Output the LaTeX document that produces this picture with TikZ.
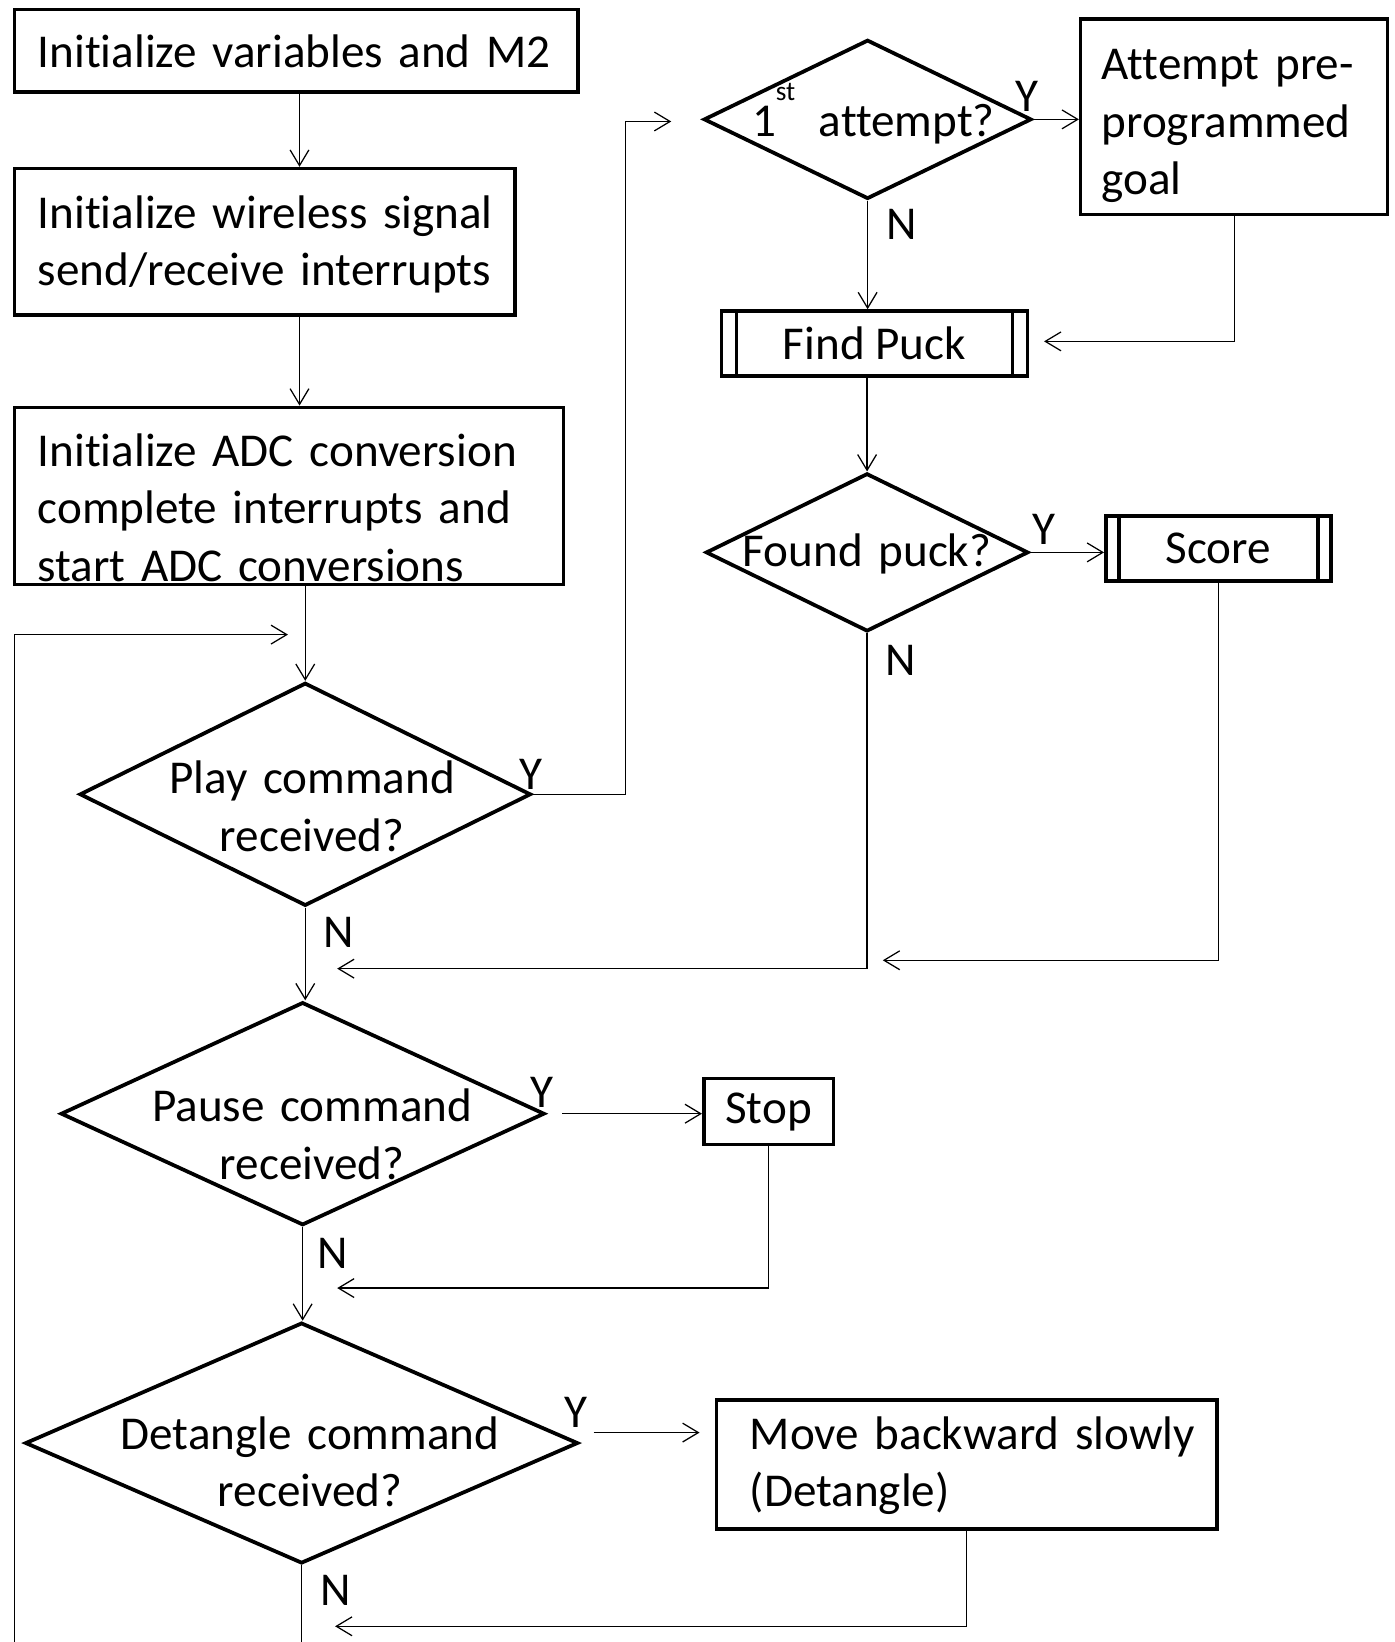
\documentclass[tikz,border=0pt]{standalone}
\usepackage{fontspec}
\setmainfont{Carlito}[Ligatures=NoCommon]
\usetikzlibrary{shapes.geometric,arrows.meta,calc}
\begin{document}
\begin{tikzpicture}[x=0.5pt,y=-0.5pt,
  every node/.style={font=\fontsize{22.5}{27.5}\selectfont},
  box/.style={draw,line width=1.7pt,rectangle,inner ysep=0pt,align=left},
  pbox/.style={draw,line width=1.7pt,rectangle,inner sep=0pt},
  dia/.style={draw,line width=1.8pt,diamond,inner sep=0pt},
  dtext/.style={text width=240pt,align=center,anchor=base,inner sep=0pt},
  yn/.style={anchor=base,inner sep=0pt},
  conn/.style={line width=0.6pt,-{Straight Barb[length=7.5pt,width=9pt]}},
  bar/.style={line width=1.7pt}]
\useasboundingbox (0,0) rectangle (1332,1568);
\fill[white] (0,0) rectangle (1332,1568);
\clip (0,0) rectangle (1332,1568);

% process boxes
\node[box, inner xsep=11pt, text width=247pt, minimum height=39.5pt, text height=20.5pt, text depth=5pt] (b1) at (283,48.5) {\mbox{Initialize variables and M2}};
\node[box, inner xsep=11pt, text width=217pt, minimum height=70pt, text height=22pt, text depth=35pt] (b2) at (253,231) {\mbox{Initialize wireless signal}\\\mbox{send/receive interrupts}};
\node[box, inner xsep=11pt, text width=240pt, minimum height=84.5pt, text height=20pt, text depth=48.5pt] (b3) at (276,473.5) {\mbox{Initialize ADC conversion}\\\mbox{complete interrupts and}\\\mbox{start ADC conversions}};
\node[box, inner xsep=10pt, text width=126.5pt, minimum height=93.5pt, text height=20pt, text depth=55.5pt] (attb) at (1178.5,111.5) {\mbox{Attempt pre-}\\\mbox{programmed}\\\mbox{goal}};
\node[box, inner xsep=16pt, text width=207pt, minimum height=61.5pt, text height=20pt, text depth=34.5pt] (mv) at (923,1398.5) {\mbox{Move backward slowly}\\\mbox{(Detangle)}};

% predefined process boxes
\node[pbox, minimum width=146pt, minimum height=31pt] (fp) at (835,328) {Find Puck};
\draw[bar] ([xshift=8pt]fp.north west) -- ([xshift=8pt]fp.south west);
\draw[bar] ([xshift=-8pt]fp.north east) -- ([xshift=-8pt]fp.south east);
\node[pbox, minimum width=107.5pt, minimum height=31pt] (sc) at (1163.5,524) {Score};
\draw[bar] ([xshift=7pt]sc.north west) -- ([xshift=7pt]sc.south west);
\draw[bar] ([xshift=-7pt]sc.north east) -- ([xshift=-7pt]sc.south east);
\node[pbox, minimum width=62pt, minimum height=31.5pt] (stop) at (734,1061.5) {Stop};

% decisions
\node[dia, minimum width=156.5pt, minimum height=76pt] (att) at (828.5,114) {};
\node[dia, minimum width=154pt, minimum height=75.5pt] (fnd) at (828,527.5) {};
\node[dia, minimum width=215.5pt, minimum height=106.5pt] (play) at (291.5,758.5) {};
\node[dia, minimum width=231pt, minimum height=106.5pt] (pause) at (289,1063.5) {};
\node[dia, minimum width=264pt, minimum height=115pt] (det) at (288,1378) {};

\node[dtext] (attt) at (834,130) {1\raisebox{17pt}{\fontsize{13}{13}\selectfont st}\hspace{0.5em}attempt?};
\node[dtext] (fndt) at (828,541) {Found puck?};
\node[dtext] (playt) at (298,758) {Play command\\received?};
\node[dtext] (pauset) at (298,1071) {Pause command\\received?};
\node[dtext] (dett) at (296,1384) {Detangle command\\received?};

% Y / N labels
\node[yn] (y1) at (981,106) {Y};
\node[yn] (y2) at (997,520) {Y};
\node[yn] (y3) at (507,754) {Y};
\node[yn] (y4) at (518,1058) {Y};
\node[yn] (y5) at (550,1363) {Y};
\node[yn] (n1) at (861,229) {N};
\node[yn] (n2) at (860,645) {N};
\node[yn] (n3) at (323,905) {N};
\node[yn] (n4) at (318,1211) {N};
\node[yn] (n5) at (321,1533) {N};

% free ends
\coordinate (x1) at (286,0);
\coordinate (loopL) at (14,606);
\coordinate (loopEnd) at (275,606);
\coordinate (bot) at (0,1600);
\coordinate (jp) at (597,116);
\coordinate (attIn) at (641,116);
\coordinate (fpIn) at (997,326);
\coordinate (nIn1) at (322,925);
\coordinate (nIn2) at (843,917);
\coordinate (nIn3) at (322,1230);
\coordinate (nIn4) at (320,1553);
\coordinate (mvIn) at (668,1368);

% connectors
\draw[conn] (b1.south -| x1) -- (b2.north -| x1);
\draw[conn] (b2.south -| x1) -- (b3.north -| x1);
\draw[conn] (b3.south -| play.north) -- (play.north);
\draw[conn] (det.south) -- (det.south |- bot) -| (loopL) -- (loopEnd);
\draw[conn] (play.east) -| (jp) -- (attIn);
\draw[conn] (att.east) -- (att.east -| attb.west);
\draw[conn] (att.south) -- (att.south |- fp.north);
\draw[conn] (attb.south) |- (fpIn);
\draw[conn] (fp.south -| fnd.north) -- (fnd.north);
\draw[conn] (fnd.east) -- (fnd.east -| sc.west);
\draw[conn] (fnd.south) |- (nIn1);
\draw[conn] (sc.south) |- (nIn2);
\draw[conn] (play.south) -- (play.south |- pause.north);
\draw[conn] ([xshift=7.5pt]pause.east) -- (pause.east -| stop.west);
\draw[conn] (stop.south) |- (nIn3);
\draw[conn] (pause.south) -- (pause.south |- det.north);
\draw[conn] ([shift={(13,-10)}]det.east) -- (mvIn);
\draw[conn] (mv.south) |- (nIn4);
\end{tikzpicture}
\end{document}
